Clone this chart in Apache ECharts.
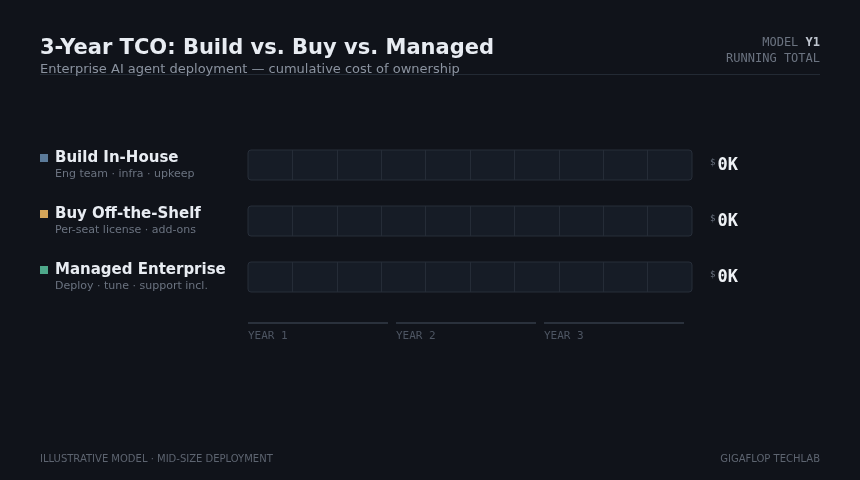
<!DOCTYPE html>
<html>
<head>
<meta charset="utf-8">
<script src="https://cdn.jsdelivr.net/npm/echarts@6/dist/echarts.min.js"></script>
<style>
  html, body { margin: 0; padding: 0; background: #10131a; }
  #chart { width: 860px; height: 480px; }
</style>
</head>
<body>
<div id="chart"></div>
<script>
// data
var options = ['Build In-House', 'Buy Off-the-Shelf', 'Managed Enterprise'];
var notes = ['Eng team · infra · upkeep', 'Per-seat license · add-ons', 'Deploy · tune · support incl.'];
var costsK = [0, 0, 0];           // running total at Y1, $K
var years = ['1', '2', '3'];
var yearMark = [1, 1, 1];
var colors = ['#5b7a99', '#d4a55a', '#4ea88a'];

var SANS = 'DejaVu Sans';
var MONO = 'DejaVu Sans Mono';

var chart = echarts.init(document.getElementById('chart'));

var grids = [], xAxes = [], yAxes = [], series = [];
for (var i = 0; i < options.length; i++) {
    grids.push({ left: 248, width: 444, top: 150 + i * 56, height: 30 });
    xAxes.push({
        gridIndex: i, type: 'value', min: 0, max: 1000, interval: 100, z: 3,
        axisLine: { show: false }, axisTick: { show: false }, axisLabel: { show: false },
        splitLine: { show: true, showMinLine: false, showMaxLine: false, lineStyle: { color: '#252c37', width: 1 } }
    });
    var rich = {
        sq: { width: 8, height: 8, backgroundColor: colors[i] },
        name: { fontFamily: SANS, fontSize: 15, fontWeight: 'bold', color: '#e8ecf2', padding: [0, 0, 0, 7], lineHeight: 16 },
        sub: { fontFamily: SANS, fontSize: 11, color: '#6b7380', padding: [0, 0, 0, 15], lineHeight: 16 }
    };
    yAxes.push({
        gridIndex: i, type: 'category', data: [options[i]],
        axisLine: { show: false }, axisTick: { show: false },
        axisLabel: {
            margin: 208, align: 'left', rich: rich, padding: [2, 0, 0, 0],
            formatter: (function (k) {
                return function (v) { return '{sq|}{name|' + v + '}\n{sub|' + notes[k] + '}'; };
            })(i)
        }
    });
    yAxes.push({
        gridIndex: i, type: 'category', position: 'right', data: [costsK[i]],
        axisLine: { show: false }, axisTick: { show: false },
        axisLabel: {
            margin: 18, align: 'left',
            formatter: function (v) { return '{cur|$}{val|' + v + 'K}'; },
            rich: {
                cur: { fontFamily: MONO, fontSize: 9, color: '#6b7380', verticalAlign: 'top', padding: [3, 2, 4, 0] },
                val: { fontFamily: MONO, fontSize: 17, fontWeight: 'bold', color: '#eef1f5', padding: [2, 0, 0, 0] }
            }
        }
    });
    series.push({
        type: 'bar', name: options[i], xAxisIndex: i, yAxisIndex: i * 2,
        data: [costsK[i]], barWidth: 30,
        itemStyle: { color: colors[i], borderRadius: 3 },
        showBackground: true,
        backgroundStyle: { color: '#161c26', borderColor: '#272e39', borderWidth: 1, borderRadius: 3 }
    });
}

// year strip under the tracks
var yg = options.length;
grids.push({ left: 244, width: 444, top: 322, height: 2 });
xAxes.push({ gridIndex: yg, type: 'category', data: years, show: false });
yAxes.push({ gridIndex: yg, type: 'value', min: 0, max: 1, show: false });
series.push({
    type: 'bar', xAxisIndex: yg, yAxisIndex: yAxes.length - 1,
    data: yearMark, barWidth: 140,
    itemStyle: { color: '#2a313c' },
    label: {
        show: true, position: [0, 9], align: 'left', verticalAlign: 'top',
        fontFamily: MONO, fontSize: 11, color: '#4d5562',
        formatter: function (p) { return 'YEAR ' + p.name; }
    }
});

chart.setOption({
    backgroundColor: '#10131a',
    animation: false,
    title: [
        { text: '3-Year TCO: Build vs. Buy vs. Managed', left: 40, top: 38, padding: 0,
          textStyle: { fontFamily: SANS, fontSize: 21, fontWeight: 'bold', color: '#e8ecf2' } },
        { text: 'Enterprise AI agent deployment — cumulative cost of ownership', left: 40, top: 63, padding: 0,
          textStyle: { fontFamily: SANS, fontSize: 13, fontWeight: 'normal', color: '#8b93a0' } },
        { text: 'MODEL {b|Y1}', right: 40, top: 37, padding: 0,
          textStyle: { fontFamily: MONO, fontSize: 12, fontWeight: 'normal', color: '#6b7380',
            rich: { b: { fontFamily: MONO, fontSize: 12, fontWeight: 'bold', color: '#c0c6d0' } } } },
        { text: 'RUNNING TOTAL', right: 40, top: 53, padding: 0,
          textStyle: { fontFamily: MONO, fontSize: 12, fontWeight: 'normal', color: '#6b7380' } },
        { text: 'ILLUSTRATIVE MODEL · MID-SIZE DEPLOYMENT', left: 40, top: 454, padding: 0,
          textStyle: { fontFamily: SANS, fontSize: 10, fontWeight: 'normal', color: '#5d6470' } },
        { text: 'GIGAFLOP TECHLAB', right: 40, top: 454, padding: 0,
          textStyle: { fontFamily: SANS, fontSize: 10, fontWeight: 'normal', color: '#5d6470' } }
    ],
    graphic: [
        { type: 'line', shape: { x1: 40, y1: 74.5, x2: 820, y2: 74.5 }, style: { stroke: '#232a34', lineWidth: 1 } }
    ],
    grid: grids,
    xAxis: xAxes,
    yAxis: yAxes,
    series: series
});
</script>
</body>
</html>
